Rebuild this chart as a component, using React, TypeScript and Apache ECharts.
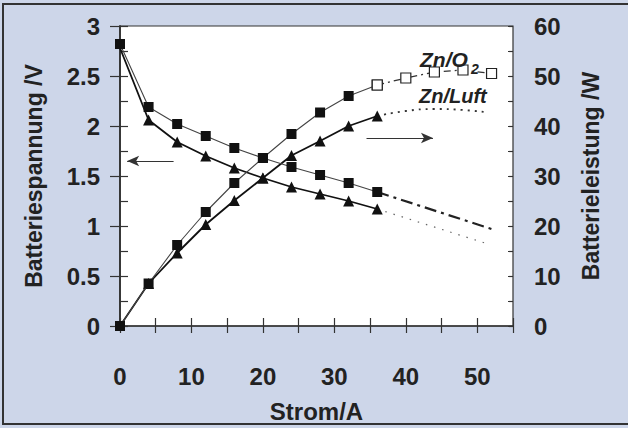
import React, { useEffect, useRef } from 'react';
import * as echarts from 'echarts';

const currentA = [0, 4, 8, 12, 16, 20, 24, 28, 32, 36];
const voltO2 = [2.82, 2.19, 2.02, 1.9, 1.78, 1.68, 1.59, 1.51, 1.43, 1.34];
const voltLuft = [2.78, 2.06, 1.84, 1.7, 1.58, 1.48, 1.39, 1.32, 1.25, 1.17];
const powerO2 = [0, 8.5, 16.2, 22.8, 28.6, 33.6, 38.4, 42.7, 46.0, 48.2];
const powerLuft = [0, 8.5, 14.6, 20.3, 25.1, 29.6, 34.1, 37.0, 40.0, 42.0];

const extPowerO2Current = [36, 40, 44, 48, 52];
const extPowerO2 = [48.2, 49.6, 50.8, 51.2, 50.5];
const extVoltO2Current = [36, 52];
const extVoltO2 = [1.34, 0.97];
const extVoltLuftCurrent = [36, 51.5];
const extVoltLuft = [1.17, 0.82];
const extPowerLuftCurrent = [36, 40, 44, 48, 51.5];
const extPowerLuft = [42.0, 43.0, 43.4, 43.2, 42.7];

const xTickLabels = ['0', '10', '20', '30', '40', '50'];
const leftTickLabels = ['0', '0.5', '1', '1.5', '2', '2.5', '3'];
const rightTickLabels = ['0', '10', '20', '30', '40', '50', '60'];

const FONT = '"Liberation Sans", Arial, Helvetica, sans-serif';
const INK = '#222';

const zip = (xs: number[], ys: number[]) => xs.map((x, i) => [x, ys[i]]);

export default function App() {
  const ref = useRef<HTMLDivElement>(null);
  useEffect(() => {
    if (!ref.current) return;
    const chart = echarts.init(ref.current, undefined, { renderer: 'svg' });
    const labelStyle = { color: INK, fontFamily: FONT, fontWeight: 'bold' as const, fontSize: 24 };
    const axisLine = { show: true, lineStyle: { color: '#333', width: 1.5 } };
    const lastIdx = currentA.length - 1;

    chart.setOption({
      animation: false,
      backgroundColor: '#cdd6e9',
      grid: {
        left: 120, right: 115, top: 26, bottom: 100,
        show: true, backgroundColor: '#ffffff', borderColor: '#333', borderWidth: 1.2,
      },
      xAxis: [
        {
          type: 'value', min: 0, max: 55, interval: 5,
          axisLine,
          axisTick: { show: true, length: 7, lineStyle: { color: '#333', width: 1.2 } },
          splitLine: { show: false },
          axisLabel: {
            ...labelStyle, margin: 38,
            formatter: (v: number) => (v % 10 === 0 ? xTickLabels[v / 10] : ''),
          },
          name: 'Strom/A', nameLocation: 'middle', nameGap: 73,
          nameTextStyle: { ...labelStyle, fontSize: 24 },
        },
        {
          type: 'value', min: 0, max: 55, interval: 5, position: 'bottom',
          axisLine: { show: false },
          axisTick: { show: true, inside: true, length: 8, lineStyle: { color: '#333', width: 1.2 } },
          axisLabel: { show: false }, splitLine: { show: false },
        },
      ],
      yAxis: [
        {
          type: 'value', min: 0, max: 3, interval: 0.5, position: 'left',
          axisLine,
          axisTick: { show: true, length: 10, lineStyle: { color: '#333', width: 1.2 } },
          splitLine: { show: false },
          axisLabel: {
            ...labelStyle, margin: 20,
            formatter: (v: number) => leftTickLabels[Math.round(v * 2)],
          },
          name: 'Batteriespannung /V', nameLocation: 'middle', nameGap: 75, nameRotate: 90,
          nameTextStyle: { ...labelStyle, fontSize: 23 },
        },
        {
          type: 'value', min: 0, max: 60, interval: 5, position: 'right',
          axisLine,
          axisTick: { show: true, length: 8, lineStyle: { color: '#333', width: 1.2 } },
          splitLine: { show: false },
          axisLabel: {
            ...labelStyle, margin: 21,
            formatter: (v: number) => (v % 10 === 0 ? rightTickLabels[v / 10] : ''),
          },
          name: 'Batterieleistung /W', nameLocation: 'middle', nameGap: 66, nameRotate: 90,
          nameTextStyle: { ...labelStyle, fontSize: 23 },
        },
        {
          type: 'value', min: 0, max: 60, interval: 5, position: 'right',
          axisLine: { show: false },
          axisTick: { show: true, inside: true, length: 5, lineStyle: { color: '#333', width: 1.2 } },
          axisLabel: { show: false }, splitLine: { show: false },
        },
      ],
      series: [
        {
          type: 'line', yAxisIndex: 0, z: 3,
          data: zip(extVoltO2Current, extVoltO2),
          symbol: 'none',
          lineStyle: { color: '#222', width: 2.2, type: [12, 5, 3, 5] },
        },
        {
          type: 'line', yAxisIndex: 0, z: 3,
          data: zip(extVoltLuftCurrent, extVoltLuft),
          symbol: 'none',
          lineStyle: { color: '#666', width: 1.2, type: [1.5, 7] },
        },
        {
          type: 'line', yAxisIndex: 2, z: 3,
          data: zip(extPowerLuftCurrent, extPowerLuft),
          symbol: 'none', smooth: true,
          lineStyle: { color: '#333', width: 1.8, type: [2, 5] },
        },
        {
          type: 'line', yAxisIndex: 2, z: 4,
          data: zip(extPowerO2Current, extPowerO2),
          symbol: 'rect', symbolSize: 10,
          itemStyle: { color: '#fff', borderColor: '#222', borderWidth: 1.2 },
          lineStyle: { color: '#333', width: 1.3, type: [7, 4, 2, 4] },
        },
        {
          type: 'line', yAxisIndex: 0, z: 5,
          data: zip(currentA, voltLuft).map((p, i) => (i === 0 ? { value: p, symbol: 'none' } : p)),
          symbol: 'triangle', symbolSize: 11,
          itemStyle: { color: '#111' },
          lineStyle: { color: '#111', width: 1.8 },
          markLine: {
            silent: true, symbol: ['none', 'arrow'], symbolSize: [8, 12],
            label: { show: false },
            lineStyle: { color: '#333', width: 1.2, type: 'solid' },
            data: [
              [{ coord: [7.5, 1.65] }, { coord: [1.0, 1.65] }],
              [{ coord: [34.5, 1.88] }, { coord: [43.8, 1.88] }],
            ],
          },
        },
        {
          type: 'line', yAxisIndex: 2, z: 5,
          data: zip(currentA, powerLuft).map((p, i) => (i === 0 ? { value: p, symbol: 'none' } : p)),
          symbol: 'triangle', symbolSize: 11,
          itemStyle: { color: '#111' },
          lineStyle: { color: '#111', width: 1.8 },
        },
        {
          type: 'line', yAxisIndex: 0, z: 6,
          data: zip(currentA, voltO2),
          symbol: 'rect', symbolSize: 10,
          itemStyle: { color: '#111' },
          lineStyle: { color: '#444', width: 1.1 },
        },
        {
          type: 'line', yAxisIndex: 2, z: 6,
          data: zip(currentA, powerO2).map((p, i) =>
            i === lastIdx
              ? { value: p, itemStyle: { color: '#fff', borderColor: '#222', borderWidth: 1.2 } }
              : p
          ),
          symbol: 'rect', symbolSize: 10,
          itemStyle: { color: '#111' },
          lineStyle: { color: '#444', width: 1.1 },
        },
      ],
      graphic: [
        {
          type: 'rect', silent: true, z: 100,
          shape: { x: 3, y: 4, width: 640, height: 420 },
          style: { fill: 'none', stroke: '#333', lineWidth: 2 },
        },
        {
          type: 'text', x: 420, y: 49, z: 100,
          style: { text: 'Zn/O', fill: INK, font: `italic bold 21px ${FONT}` },
        },
        {
          type: 'text', x: 471, y: 62, z: 100,
          style: { text: '2', fill: INK, font: `italic bold 14px ${FONT}` },
        },
        {
          type: 'text', x: 419, y: 86, z: 100,
          style: { text: 'Zn/Luft', fill: INK, font: `italic bold 20px ${FONT}` },
        },
      ],
    });
    return () => chart.dispose();
  }, []);
  return (
    <div
      ref={ref}
      style={{ position: 'absolute', left: 0, top: 0, width: 628, height: 428 }}
    />
  );
}
